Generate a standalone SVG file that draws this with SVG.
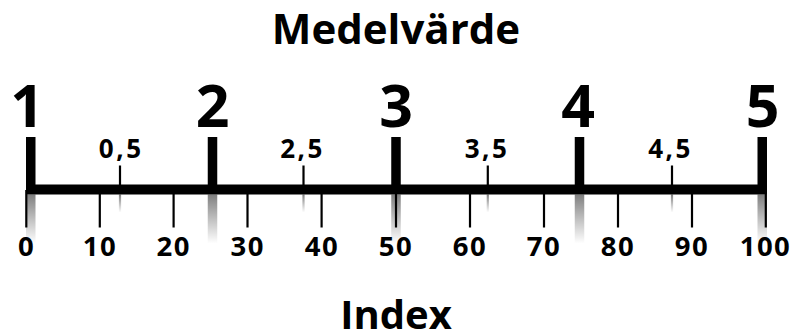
<svg xmlns="http://www.w3.org/2000/svg" width="792" height="334" viewBox="0 0 792 334">
<defs>
<linearGradient id="fade" x1="0" y1="0" x2="0" y2="1">
<stop offset="0" stop-color="#000" stop-opacity="0.5"/>
<stop offset="1" stop-color="#000" stop-opacity="0"/>
</linearGradient>
<style>
text{font-family:"Open Sans","Noto Sans","DejaVu Sans",sans-serif;font-weight:bold;fill:#000;text-anchor:middle}
.title{font-size:42px}
.big{font-size:59px}
.half{font-size:26px;letter-spacing:2.5px}
.idx{font-size:27.5px;letter-spacing:1.5px}
.thin{stroke:#000;stroke-width:2.2}
.fade{fill:url(#fade)}
</style>
</defs>
<text id="title" class="title" x="396" y="44">Medelvärde</text>
<text id="xlabel" class="title" x="396" y="329" style="font-size:40px">Index</text>
<g id="connectors">
<rect x="26" y="184.5" width="741" height="10" fill="#000"/>
</g>
<g id="big-ticks">
<g id="tick-1"><rect x="26" y="137" width="9.5" height="50" fill="#000"/><rect class="fade" x="26" y="194.5" width="9.5" height="49"/><text class="big" x="27" y="127">1</text></g>
<g id="tick-2"><rect x="207.75" y="137" width="9.5" height="50" fill="#000"/><rect class="fade" x="207.75" y="194.5" width="9.5" height="49"/><text class="big" x="212.5" y="127">2</text></g>
<g id="tick-3"><rect x="391.25" y="137" width="9.5" height="50" fill="#000"/><rect class="fade" x="391.25" y="194.5" width="9.5" height="49"/><text class="big" x="396" y="127">3</text></g>
<g id="tick-4"><rect x="574.75" y="137" width="9.5" height="50" fill="#000"/><rect class="fade" x="574.75" y="194.5" width="9.5" height="49"/><text class="big" x="578" y="127">4</text></g>
<g id="tick-5"><rect x="757.5" y="137" width="9.5" height="50" fill="#000"/><rect class="fade" x="757.5" y="194.5" width="9.5" height="49"/><text class="big" x="762.5" y="127">5</text></g>
</g>
<g id="half-ticks">
<g id="half-05"><line class="thin" x1="120" y1="165.5" x2="120" y2="186"/><rect class="fade" x="118.9" y="194.5" width="2.2" height="18"/><text class="half" x="121.2" y="157.5">0,5</text></g>
<g id="half-25"><line class="thin" x1="303.5" y1="165.5" x2="303.5" y2="186"/><rect class="fade" x="302.4" y="194.5" width="2.2" height="18"/><text class="half" x="302.5" y="157.5">2,5</text></g>
<g id="half-35"><line class="thin" x1="487.8" y1="165.5" x2="487.8" y2="186"/><rect class="fade" x="486.7" y="194.5" width="2.2" height="18"/><text class="half" x="487" y="157.5">3,5</text></g>
<g id="half-45"><line class="thin" x1="672" y1="165.5" x2="672" y2="186"/><rect class="fade" x="670.9" y="194.5" width="2.2" height="18"/><text class="half" x="670.5" y="157.5">4,5</text></g>
</g>
<g id="index-ticks">
<g id="i0"><line class="thin" x1="26.3" y1="190" x2="26.3" y2="227.5"/><text class="idx" x="26.5" y="256">0</text></g>
<g id="i10"><line class="thin" x1="99.8" y1="190" x2="99.8" y2="227.5"/><text class="idx" x="100" y="256">10</text></g>
<g id="i20"><line class="thin" x1="173.6" y1="190" x2="173.6" y2="227.5"/><text class="idx" x="173.8" y="256">20</text></g>
<g id="i30"><line class="thin" x1="247.5" y1="190" x2="247.5" y2="227.5"/><text class="idx" x="247.7" y="256">30</text></g>
<g id="i40"><line class="thin" x1="321.6" y1="190" x2="321.6" y2="227.5"/><text class="idx" x="322" y="256">40</text></g>
<g id="i50"><line class="thin" x1="396" y1="190" x2="396" y2="227.5"/><text class="idx" x="396" y="256">50</text></g>
<g id="i60"><line class="thin" x1="470" y1="190" x2="470" y2="227.5"/><text class="idx" x="470" y="256">60</text></g>
<g id="i70"><line class="thin" x1="544" y1="190" x2="544" y2="227.5"/><text class="idx" x="544" y="256">70</text></g>
<g id="i80"><line class="thin" x1="618" y1="190" x2="618" y2="227.5"/><text class="idx" x="618" y="256">80</text></g>
<g id="i90"><line class="thin" x1="692" y1="190" x2="692" y2="227.5"/><text class="idx" x="692" y="256">90</text></g>
<g id="i100"><line class="thin" x1="765.8" y1="190" x2="765.8" y2="227.5"/><text class="idx" x="765.5" y="256">100</text></g>
</g>
</svg>
